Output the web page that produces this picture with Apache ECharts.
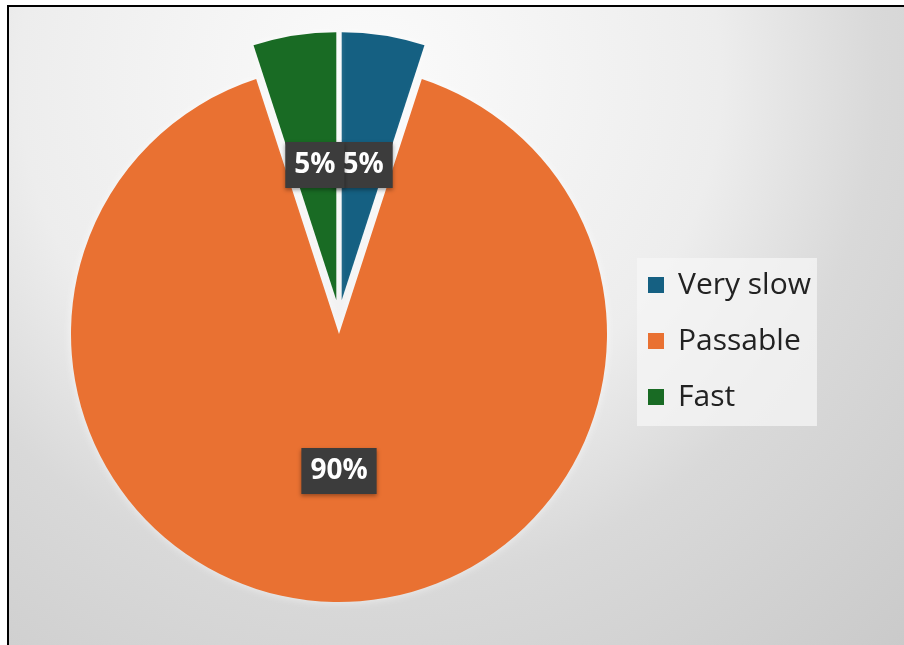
<!DOCTYPE html>
<html>
<head>
<meta charset="utf-8">
<title>Speed</title>
<script src="https://cdn.jsdelivr.net/npm/echarts@6/dist/echarts.min.js"></script>
<style>
  html, body { margin: 0; padding: 0; background: #ffffff; }
  #frame {
    position: absolute; left: 7px; top: 5px;
    width: 895px; height: 638px;
    border-left: 2px solid #000; border-top: 2px solid #000;
    overflow: hidden;
  }
  #chart { width: 895px; height: 638px; }
</style>
</head>
<body>
<div id="frame"><div id="chart"></div></div>
<script>
// Speed ratings and their shares (percent)
const categories = ['Very slow', 'Passable', 'Fast'];
const shares = [5, 90, 5];
const sliceColors = ['#156082', '#E97132', '#196B24'];

const chart = echarts.init(document.getElementById('chart'), null, { renderer: 'canvas' });

const pieData = categories.map((name, i) => ({
  name: name,
  value: shares[i],
  selected: true,
  itemStyle: { color: sliceColors[i] }
}));

chart.setOption({
  animation: false,
  backgroundColor: {
    type: 'radial', x: 361, y: 73, r: 780, global: true,
    colorStops: [
      { offset: 0, color: '#fbfbfb' },
      { offset: 0.45, color: '#ededed' },
      { offset: 0.65, color: '#d9d9d9' },
      { offset: 1, color: '#cacaca' }
    ]
  },
  legend: {
    orient: 'vertical',
    left: 628, top: 251,
    padding: [12, 6, 14, 11],
    backgroundColor: 'rgba(246,246,246,0.75)',
    itemWidth: 16, itemHeight: 16, itemGap: 26,
    icon: 'rect',
    selectedMode: false,
    data: categories,
    textStyle: {
      fontFamily: 'Open Sans', fontSize: 30, color: '#222222',
      lineHeight: 30, padding: [0, 0, 0, 9]
    }
  },
  series: [{
    type: 'pie',
    center: [330, 310],
    radius: [0, 268],
    startAngle: 90,
    clockwise: true,
    selectedMode: 'multiple',
    selectedOffset: 17,
    silent: true,
    avoidLabelOverlap: false,
    labelLayout: { hideOverlap: false },
    emphasis: { disabled: true },
    itemStyle: {
      borderWidth: 0,
      shadowBlur: 10,
      shadowColor: 'rgba(255,255,255,0.6)'
    },
    label: {
      show: true,
      position: 'inside',
      formatter: '{c}%',
      fontFamily: 'Open Sans',
      fontWeight: 'bold',
      fontSize: 28,
      color: '#ffffff',
      backgroundColor: '#3c3c3c',
      padding: [10, 9, 8, 9],
      shadowBlur: 4,
      shadowColor: 'rgba(0,0,0,0.35)',
      shadowOffsetY: 2
    },
    labelLine: { show: false },
    data: pieData
  }]
});
</script>
</body>
</html>
